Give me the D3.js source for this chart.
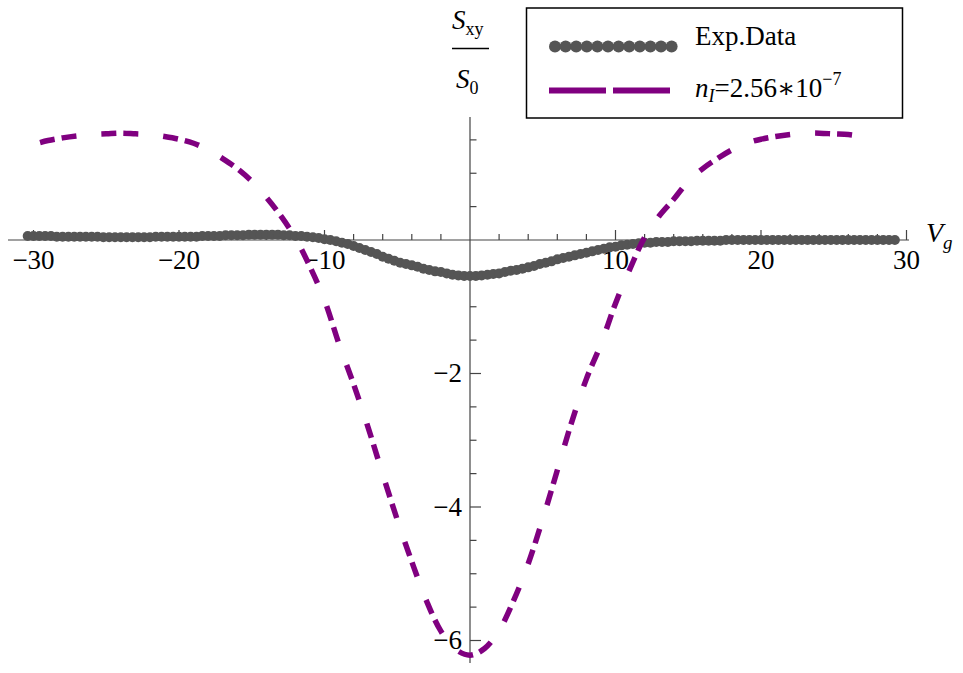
<!DOCTYPE html>
<html>
<head>
<meta charset="utf-8">
<script src="https://cdn.jsdelivr.net/npm/d3@7"></script>
<style>
  html, body { margin: 0; padding: 0; background: #fff; }
  svg { display: block; }
  svg text { font-family: 'Liberation Serif', 'DejaVu Serif', serif; fill: #000; }
</style>
</head>
<body>
<svg id="chart" width="963" height="673"></svg>
<script>
// Measured transverse signal S_xy/S_0 against gate voltage V_g (pairs [Vg, S])
const expData = [
  [-30.4,0.06],[-30.0,0.06],[-29.6,0.06],[-29.2,0.06],[-28.8,0.06],[-28.4,0.05],[-28.0,0.05],[-27.6,0.05],[-27.2,0.05],[-26.8,0.05],
  [-26.4,0.05],[-26.0,0.05],[-25.6,0.05],[-25.2,0.04],[-24.8,0.04],[-24.4,0.04],[-24.0,0.04],[-23.6,0.04],[-23.2,0.04],[-22.8,0.04],
  [-22.4,0.04],[-22.0,0.04],[-21.6,0.05],[-21.2,0.05],[-20.8,0.05],[-20.4,0.05],[-20.0,0.05],[-19.6,0.05],[-19.2,0.05],[-18.8,0.05],
  [-18.4,0.06],[-18.0,0.06],[-17.6,0.06],[-17.2,0.06],[-16.8,0.07],[-16.4,0.07],[-16.0,0.07],[-15.6,0.07],[-15.2,0.08],[-14.8,0.08],
  [-14.4,0.08],[-14.0,0.08],[-13.6,0.08],[-13.2,0.08],[-12.8,0.07],[-12.4,0.07],[-12.0,0.06],[-11.6,0.06],[-11.2,0.05],[-10.8,0.04],
  [-10.4,0.03],[-10.0,0.01],[-9.6,0.00],[-9.2,-0.02],[-8.8,-0.04],[-8.4,-0.06],[-8.0,-0.09],[-7.6,-0.12],[-7.2,-0.15],[-6.8,-0.18],
  [-6.4,-0.21],[-6.0,-0.25],[-5.6,-0.28],[-5.2,-0.31],[-4.8,-0.34],[-4.4,-0.36],[-4.0,-0.38],[-3.6,-0.40],[-3.2,-0.43],[-2.8,-0.45],
  [-2.4,-0.47],[-2.0,-0.48],[-1.6,-0.50],[-1.2,-0.52],[-0.8,-0.53],[-0.4,-0.54],[0.0,-0.54],[0.4,-0.54],[0.8,-0.53],[1.2,-0.52],
  [1.6,-0.51],[2.0,-0.50],[2.4,-0.48],[2.8,-0.46],[3.2,-0.45],[3.6,-0.43],[4.0,-0.41],[4.4,-0.39],[4.8,-0.36],[5.2,-0.34],
  [5.6,-0.32],[6.0,-0.29],[6.4,-0.27],[6.8,-0.25],[7.2,-0.23],[7.6,-0.21],[8.0,-0.19],[8.4,-0.17],[8.8,-0.15],[9.2,-0.13],
  [9.6,-0.11],[10.0,-0.10],[10.4,-0.08],[10.8,-0.07],[11.2,-0.06],[11.6,-0.05],[12.0,-0.04],[12.4,-0.04],[12.8,-0.03],[13.2,-0.03],
  [13.6,-0.03],[14.0,-0.02],[14.4,-0.02],[14.8,-0.02],[15.2,-0.02],[15.6,-0.01],[16.0,-0.01],[16.4,-0.01],[16.8,-0.01],[17.2,-0.01],
  [17.6,0.00],[18.0,0.00],[18.4,0.00],[18.8,0.00],[19.2,0.00],[19.6,0.00],[20.0,0.00],[20.4,0.00],[20.8,0.00],[21.2,0.00],
  [21.6,0.00],[22.0,0.00],[22.4,0.00],[22.8,0.00],[23.2,0.00],[23.6,0.00],[24.0,0.00],[24.4,0.00],[24.8,0.00],[25.2,0.00],
  [25.6,0.00],[26.0,0.00],[26.4,0.00],[26.8,0.00],[27.2,0.00],[27.6,0.00],[28.0,0.00],[28.4,0.00],[28.8,0.00],[29.2,0.00]
];

// Model curve for impurity density n_I = 2.56e-7 (pairs [Vg, S])
const modelCurve = [
  [-29.55,1.46],[-29,1.49],[-28,1.53],[-27,1.56],[-26,1.58],[-25,1.59],[-24,1.60],[-23,1.59],[-22,1.58],[-21,1.55],
  [-20,1.51],[-19,1.45],[-18,1.35],[-17,1.22],[-16,1.07],[-15,0.88],[-14,0.64],[-13,0.36],[-12,0.03],[-11,-0.40],
  [-10,-0.90],[-9,-1.56],[-8,-2.16],[-7,-2.81],[-6,-3.51],[-5,-4.19],[-4,-4.82],[-3,-5.40],[-2,-5.86],[-1,-6.13],
  [0,-6.22],[1,-6.12],[2,-5.85],[3,-5.40],[4,-4.85],[5,-4.18],[6,-3.45],[7,-2.72],[8,-2.08],[9,-1.56],
  [10,-0.95],[11,-0.43],[12,0.04],[13,0.36],[14,0.61],[15,0.88],[16,1.07],[17,1.22],[18,1.35],[19,1.45],
  [20,1.51],[21,1.55],[22,1.58],[23,1.60],[24,1.60],[25,1.59],[26,1.58],[27,1.55],[27.9,1.52]
];

// Axis ticks
const xMajorTicks = [-30, -20, -10, 10, 20, 30];
const xTickLabels = ["\u221230", "\u221220", "\u221210", "10", "20", "30"];
const xMinorTicks = [-28,-26,-24,-22,-18,-16,-14,-12,-8,-6,-4,-2,2,4,6,8,12,14,16,18,22,24,26,28];
const yMajorTicks = [-6, -4, -2];
const yTickLabels = ["\u22126", "\u22124", "\u22122"];
const yMinorTicks = [-5.5,-5,-4.5,-3.5,-3,-2.5,-1.5,-1,-0.5,0.5,1,1.5];

const legendLabels = ["Exp.Data", "model"];

const dotColor = "#555555";
const curveColor = "#800080";
const serif = "'Liberation Serif', 'DejaVu Serif', serif";

const svg = d3.select("#chart").attr("font-family", serif);

const x = d3.scaleLinear().domain([-30, 30]).range([33.5, 906.5]);
const y = d3.scaleLinear().domain([0, -6]).range([240, 640.5]);

// ---- axes (drawn through the origin) ----
const axisG = svg.append("g").attr("stroke", "#444").attr("stroke-width", 1.2);
axisG.append("line").attr("x1", 8).attr("x2", 909).attr("y1", y(0)).attr("y2", y(0));
axisG.append("line").attr("x1", x(0)).attr("x2", x(0)).attr("y1", 117).attr("y2", 663);

// x ticks point upward from the axis
axisG.selectAll("line.xmaj").data(xMajorTicks).join("line")
  .attr("class", "xmaj")
  .attr("x1", d => x(d)).attr("x2", d => x(d))
  .attr("y1", y(0)).attr("y2", y(0) - 10);
axisG.selectAll("line.xmin").data(xMinorTicks).join("line")
  .attr("class", "xmin")
  .attr("x1", d => x(d)).attr("x2", d => x(d))
  .attr("y1", y(0)).attr("y2", y(0) - 6);

// y ticks point right of the axis
axisG.selectAll("line.ymaj").data(yMajorTicks).join("line")
  .attr("class", "ymaj")
  .attr("x1", x(0)).attr("x2", x(0) + 11)
  .attr("y1", d => y(d)).attr("y2", d => y(d));
axisG.selectAll("line.ymin").data(yMinorTicks).join("line")
  .attr("class", "ymin")
  .attr("x1", x(0)).attr("x2", x(0) + 6.5)
  .attr("y1", d => y(d)).attr("y2", d => y(d));

svg.append("g").selectAll("text").data(xMajorTicks).join("text")
  .attr("font-family", serif)
  .attr("x", d => x(d)).attr("y", 269)
  .attr("text-anchor", "middle").attr("font-size", 27)
  .text((d, i) => xTickLabels[i]);

svg.append("g").selectAll("text").data(yMajorTicks).join("text")
  .attr("font-family", serif)
  .attr("x", 462).attr("y", d => y(d) + 8.5)
  .attr("text-anchor", "end").attr("font-size", 27)
  .text((d, i) => yTickLabels[i]);

// axis labels
const vg = svg.append("text").attr("font-family", serif).attr("x", 926).attr("y", 242).attr("font-size", 28);
vg.append("tspan").attr("font-style", "italic").text("V");
vg.append("tspan").attr("font-style", "italic").attr("font-size", 19).attr("dy", 7).text("g");

const sxy = svg.append("text").attr("font-family", serif).attr("x", 452).attr("y", 29).attr("font-size", 27);
sxy.append("tspan").attr("font-style", "italic").text("S");
sxy.append("tspan").attr("font-size", 18).attr("dy", 6).text("xy");
svg.append("line").attr("x1", 452).attr("x2", 489).attr("y1", 48.5).attr("y2", 48.5)
  .attr("stroke", "#000").attr("stroke-width", 1.3);
const s0 = svg.append("text").attr("font-family", serif).attr("x", 456).attr("y", 88).attr("font-size", 27);
s0.append("tspan").attr("font-style", "italic").text("S");
s0.append("tspan").attr("font-size", 18).attr("dy", 6).text("0");

// ---- measured points ----
svg.append("g").selectAll("circle").data(expData).join("circle")
  .attr("cx", d => x(d[0])).attr("cy", d => y(d[1]))
  .attr("r", 5).attr("fill", dotColor);

// ---- model curve ----
const line = d3.line().x(d => x(d[0])).y(d => y(d[1])).curve(d3.curveCatmullRom.alpha(0.5));
svg.append("path").datum(modelCurve)
  .attr("d", line)
  .attr("fill", "none")
  .attr("stroke", curveColor)
  .attr("stroke-width", 5.5)
  .attr("stroke-dasharray", "15,7,15,25");

// ---- legend ----
const lg = svg.append("g");
lg.append("rect").attr("x", 526.5).attr("y", 8).attr("width", 376).attr("height", 110)
  .attr("fill", "#fff").attr("stroke", "#000").attr("stroke-width", 1.5);
lg.selectAll("circle").data(d3.range(12)).join("circle")
  .attr("cx", i => 555 + i * 10.6).attr("cy", 46.5)
  .attr("r", 6).attr("fill", dotColor);
lg.append("line").attr("x1", 549).attr("x2", 671).attr("y1", 90.5).attr("y2", 90.5)
  .attr("stroke", curveColor).attr("stroke-width", 6).attr("stroke-dasharray", "57,7");
lg.append("text").attr("font-family", serif).attr("x", 695).attr("y", 45).attr("font-size", 27).text(legendLabels[0]);
const nl = lg.append("text").attr("font-family", serif).attr("x", 695).attr("y", 97).attr("font-size", 27);
nl.append("tspan").attr("font-style", "italic").text("n");
nl.append("tspan").attr("font-style", "italic").attr("font-size", 18).attr("dy", 5).text("I");
nl.append("tspan").attr("dy", -5).text("=2.56\u221710");
nl.append("tspan").attr("font-size", 18).attr("dy", -12).text("\u22127");
</script>
</body>
</html>
